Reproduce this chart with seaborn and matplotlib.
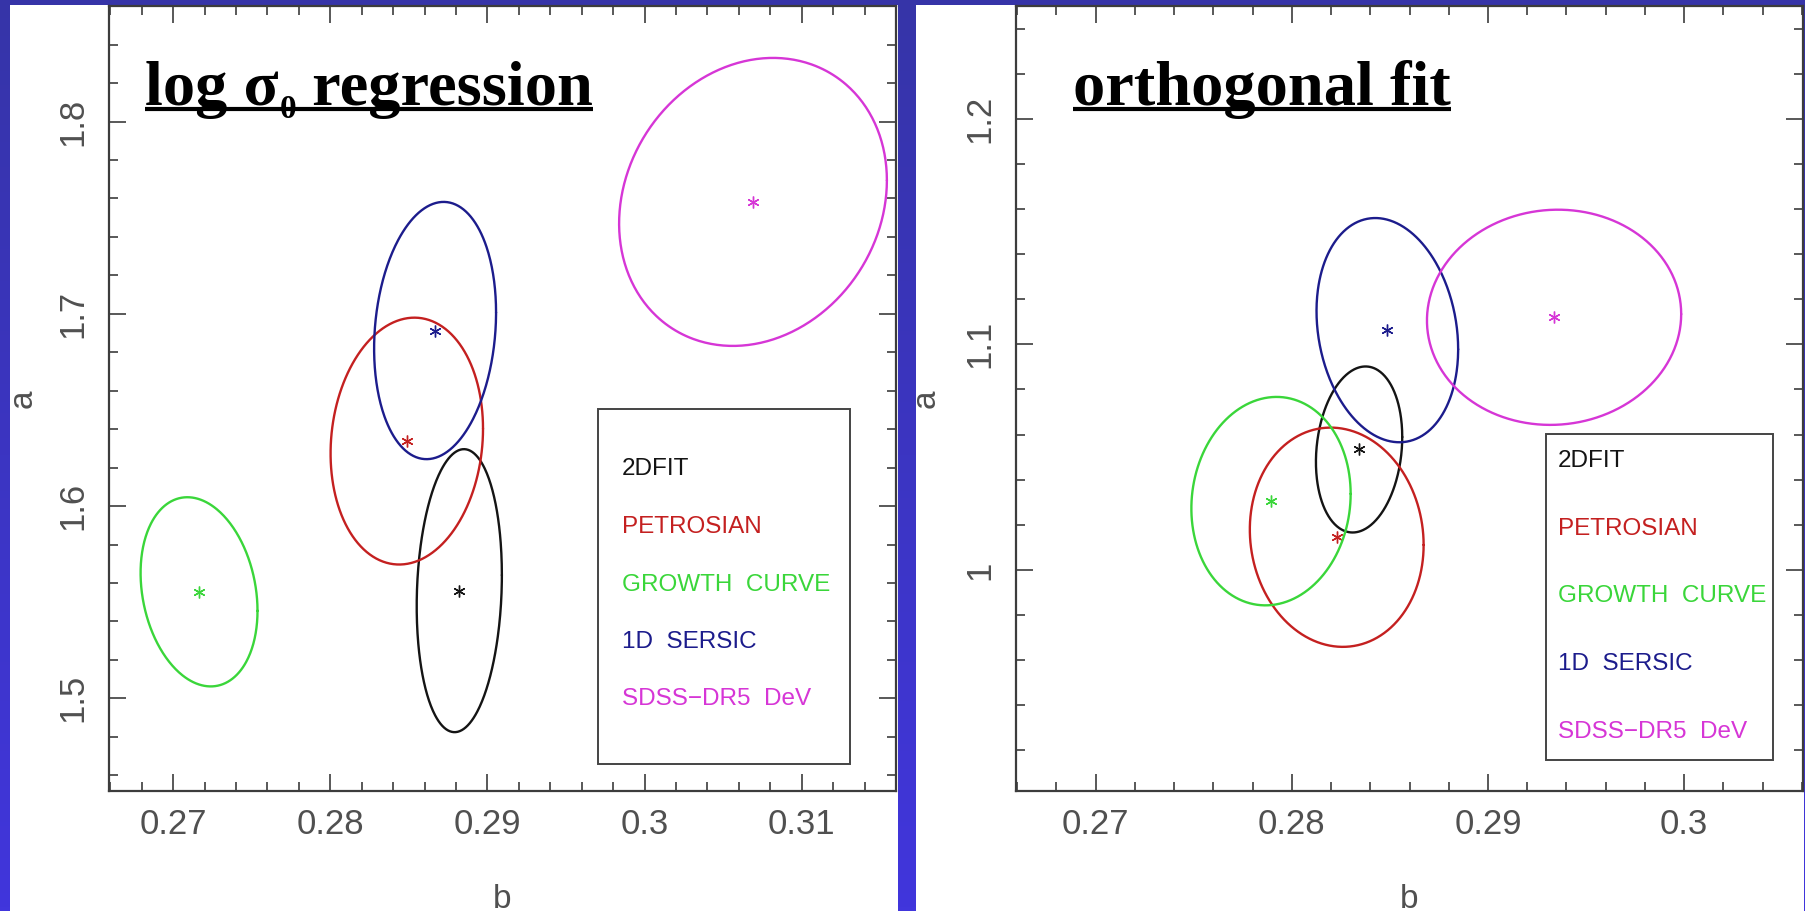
import numpy as np
import matplotlib
matplotlib.use("Agg")
import matplotlib.pyplot as plt
from matplotlib.patches import Rectangle
from matplotlib.lines import Line2D
from matplotlib.ticker import MultipleLocator, FixedLocator, FixedFormatter
import seaborn as sns

# ---- data -------------------------------------------------------------
methods = ["2DFIT", "PETROSIAN", "GROWTH  CURVE", "1D  SERSIC", "SDSS\u2212DR5  DeV"]
method_colors = ["#141414", "#c42020", "#3ad63a", "#1c1c8c", "#d636d6"]

# log sigma_0 regression: best-fit (b, a), 1-sigma half-widths and correlation
b_reg = [0.28821, 0.28487, 0.27165, 0.28667, 0.30690]
a_reg = [1.5560, 1.6338, 1.5554, 1.6913, 1.7582]
sb_reg = [0.00271, 0.00485, 0.00372, 0.00388, 0.00852]
sa_reg = [0.0736, 0.0642, 0.0492, 0.0669, 0.0749]
rho_reg = [0.11, 0.10, -0.20, 0.14, 0.15]

# orthogonal fit
b_orth = [0.28343, 0.28229, 0.27894, 0.28487, 0.29337]
a_orth = [1.0534, 1.0145, 1.0305, 1.1063, 1.1120]
sb_orth = [0.00220, 0.00443, 0.00406, 0.00361, 0.00648]
sa_orth = [0.0368, 0.0486, 0.0462, 0.0497, 0.0477]
rho_orth = [0.15, -0.07, 0.07, -0.17, 0.03]

xticks_reg = [0.27, 0.28, 0.29, 0.30, 0.31]
xlabels_reg = ["0.27", "0.28", "0.29", "0.3", "0.31"]
yticks_reg = [1.5, 1.6, 1.7, 1.8]
ylabels_reg = ["1.5", "1.6", "1.7", "1.8"]

xticks_orth = [0.27, 0.28, 0.29, 0.30]
xlabels_orth = ["0.27", "0.28", "0.29", "0.3"]
yticks_orth = [1.0, 1.1, 1.2]
ylabels_orth = ["1", "1.1", "1.2"]

# ---- style ------------------------------------------------------------
sns.set_style("white")
plt.rcParams["font.family"] = ["Liberation Sans", "DejaVu Sans"]

W, H, DPI = 1806, 911, 100
fig = plt.figure(figsize=(W / DPI, H / DPI), dpi=DPI)

# slide background: blue vertical gradient with two white panels
bg = fig.add_axes([0, 0, 1, 1], zorder=-10)
top = np.array([0x36, 0x34, 0xa8]) / 255
bot = np.array([0x41, 0x36, 0xdc]) / 255
f = np.linspace(0, 1, 256)[:, None]
grad = (top[None, :] * (1 - f) + bot[None, :] * f)[:, None, :]
bg.imshow(grad, extent=[0, 1, 0, 1], aspect="auto", origin="upper")
bg.add_patch(Rectangle((10 / W, 0), 888 / W, 906 / H, color="white", lw=0))
bg.add_patch(Rectangle((916 / W, 0), 888 / W, 906 / H, color="white", lw=0))
bg.set_xlim(0, 1)
bg.set_ylim(0, 1)
bg.axis("off")

GRAY = "#3c3c3c"
LABEL_GRAY = "#505050"


def ellipse(cx, cy, sx, sy, rho, n=400):
    t = np.linspace(0, 2 * np.pi, n)
    x = cx + sx * np.cos(t)
    y = cy + sy * (rho * np.cos(t) + np.sqrt(1 - rho ** 2) * np.sin(t))
    return x, y


def panel(rect, bs, as_, sbs, sas, rhos, xlim, ylim, xt, xl, yt, yl,
          box, text_x, baselines, ylab_x):
    ax = fig.add_axes(rect, zorder=1)
    ax.set_facecolor("white")
    for b, a, sb, sa, r, col in zip(bs, as_, sbs, sas, rhos, method_colors):
        ex, ey = ellipse(b, a, sb, sa, r)
        sns.lineplot(x=ex, y=ey, sort=False, estimator=None, color=col,
                     lw=1.7, ax=ax)
        ax.plot([b], [a], marker=(6, 2, 0), ms=8.5, mew=1.0, color=col,
                ls="none")
    ax.set_xlim(*xlim)
    ax.set_ylim(*ylim)
    ax.xaxis.set_major_locator(FixedLocator(xt))
    ax.xaxis.set_major_formatter(FixedFormatter(xl))
    ax.yaxis.set_major_locator(FixedLocator(yt))
    ax.yaxis.set_major_formatter(FixedFormatter(yl))
    ax.xaxis.set_minor_locator(MultipleLocator(0.002))
    ax.yaxis.set_minor_locator(MultipleLocator(0.02))
    ax.tick_params(which="both", direction="in", top=True, right=True,
                   bottom=True, left=True,
                   color=GRAY, labelcolor=LABEL_GRAY, labelsize=25)
    ax.tick_params(which="major", length=12, width=1.2)
    ax.tick_params(which="minor", length=6.5, width=1.2)
    ax.tick_params(axis="x", pad=12)
    ax.tick_params(axis="y", pad=14, labelrotation=90)
    for lab in ax.get_yticklabels():
        lab.set_va("center")
    for s in ax.spines.values():
        s.set_color(GRAY)
        s.set_linewidth(1.6)
    ax.set_xlabel("b", fontsize=24, color=LABEL_GRAY)
    ax.xaxis.set_label_coords(0.5, -0.118)
    ax.set_ylabel("")
    ax.text(ylab_x, 0.5, "a", transform=ax.transAxes, rotation=90,
            ha="center", va="center", fontsize=24, color=LABEL_GRAY)

    # key box
    bx0, by0, bx1, by1 = box
    ax.add_patch(Rectangle((bx0, by0), bx1 - bx0, by1 - by0,
                           transform=ax.transAxes, fill=False,
                           ec="#444444", lw=1.4, zorder=3))
    for name, col, yb in zip(methods, method_colors, baselines):
        ax.text(text_x, yb, name, transform=ax.transAxes, color=col,
                fontsize=17.5, va="baseline", ha="left")
    return ax


ax1 = panel([109 / W, 120 / H, 787 / W, 785 / H],
            b_reg, a_reg, sb_reg, sa_reg, rho_reg,
            (0.26592, 0.31600), (1.4518, 1.8601),
            xticks_reg, xlabels_reg, yticks_reg, ylabels_reg,
            (0.6209, 0.0344, 0.9415, 0.4866), 0.6514,
            [(791 - y) / 785 for y in (475, 533, 591, 648, 705)], -0.1094)

ax2 = panel([1016 / W, 120 / H, 787 / W, 785 / H],
            b_orth, a_orth, sb_orth, sa_orth, rho_orth,
            (0.26594, 0.30606), (0.9020, 1.2500),
            xticks_orth, xlabels_orth, yticks_orth, ylabels_orth,
            (0.6734, 0.0395, 0.9619, 0.4548), 0.6887,
            [(791 - y) / 785 for y in (467, 535, 602, 670, 738)], -0.1144)

# ---- underlined headings --------------------------------------------------
tkw = dict(family="Liberation Serif", fontweight="bold", color="black")
TS = 46.4
y_base = (791 - 105) / 785

t1 = ax1.text((145 - 109) / 787, y_base, "log \u03c3", transform=ax1.transAxes,
              fontsize=TS, va="baseline", ha="left", **tkw)
t2 = ax1.annotate("0", xy=(1, 0), xycoords=t1, xytext=(0.5, -4),
                  textcoords="offset points", fontsize=24, va="bottom",
                  ha="left", **tkw)
t3 = ax1.annotate(" regression", xy=(1, 0), xycoords=(t2, t1),
                  fontsize=TS, va="bottom", ha="left", **tkw)
u1 = ax2.text((1073 - 1016) / 787, y_base, "orthogonal fit",
              transform=ax2.transAxes, fontsize=TS, va="baseline", ha="left",
              **tkw)

fig.canvas.draw()
renderer = fig.canvas.get_renderer()
inv = fig.transFigure.inverted()


def underline(first, last):
    bb0 = first.get_window_extent(renderer)
    bb1 = last.get_window_extent(renderer)
    _, _, d = renderer.get_text_width_height_descent(
        "lp", first.get_fontproperties(), ismath=False)
    y = bb0.y0 + d - 3.5
    (fx0, fy), (fx1, _) = inv.transform([(bb0.x0, y), (bb1.x1, y)])
    fig.add_artist(Line2D([fx0, fx1], [fy, fy], transform=fig.transFigure,
                          color="black", lw=3.0, solid_capstyle="butt",
                          zorder=5))


underline(t1, t3)
underline(u1, u1)

fig.savefig("out.png", dpi=DPI)
